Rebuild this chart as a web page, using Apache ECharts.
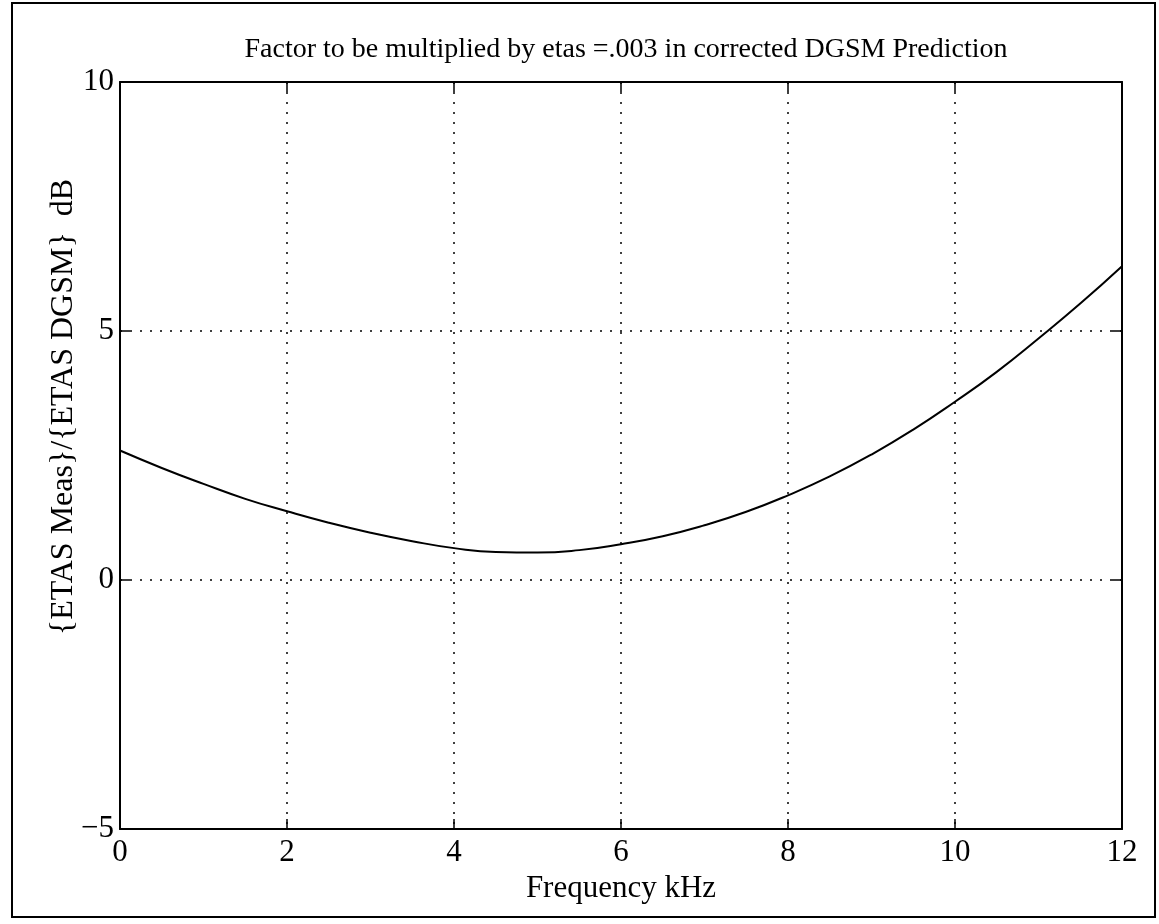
<!DOCTYPE html>
<html>
<head>
<meta charset="utf-8">
<script src="https://cdn.jsdelivr.net/npm/echarts@6/dist/echarts.min.js"></script>
<style>html,body{margin:0;padding:0;background:#fff;}#c{width:1159px;height:924px;}</style>
</head>
<body>
<div id="c"></div>
<script>
const titleText = 'Factor to be multiplied by etas =.003 in corrected DGSM Prediction';
const xName = 'Frequency kHz';
const yName = '{ETAS Meas}/{ETAS DGSM}  dB';
const freqKHz = [0,0.5,1,1.5,2,2.5,3,3.5,4,4.5,5,5.5,6,6.5,7,7.5,8,8.5,9,9.5,10,10.5,11,11.5,12];
const factorDB = [2.6,2.25,1.93,1.63,1.38,1.15,0.95,0.78,0.64,0.56,0.55,0.6,0.72,0.88,1.1,1.37,1.7,2.08,2.52,3.02,3.58,4.18,4.85,5.55,6.3];
const xTicks = [0,2,4,6,8,10,12];
const yTicks = [-5,0,5,10];

const FONT = 'Liberation Serif';
const chart = echarts.init(document.getElementById('c'), null, {renderer:'canvas'});
const points = freqKHz.map((x,i)=>[x,factorDB[i]]);
const axisLine = {show:true, onZero:false, lineStyle:{color:'#000', width:2}};
const tick = {show:true, inside:true, length:10, lineStyle:{color:'#000', width:1.5}};
const grid = {show:true, lineStyle:{color:'#000', width:1.5, type:[2,8]}};
chart.setOption({
  backgroundColor:'#fff',
  animation:false,
  title:{text:titleText, left:621, top:31, textAlign:'center',
    textStyle:{fontFamily:FONT, fontSize:28, fontWeight:'normal', color:'#000'}},
  grid:{left:120, right:37, top:82, bottom:95},
  xAxis:[
    {type:'value', position:'bottom', min:xTicks[0], max:xTicks[xTicks.length-1], interval:2,
     axisLine, axisTick:tick, splitLine:grid,
     axisLabel:{fontFamily:FONT, fontSize:31, color:'#000', margin:8},
     name:xName, nameLocation:'middle', nameGap:36,
     nameTextStyle:{fontFamily:FONT, fontSize:31, color:'#000'}},
    {type:'value', position:'top', min:xTicks[0], max:xTicks[xTicks.length-1], interval:2,
     axisLine, axisTick:tick, splitLine:{show:false}, axisLabel:{show:false}}
  ],
  yAxis:[
    {type:'value', position:'left', min:yTicks[0], max:yTicks[yTicks.length-1], interval:5,
     axisLine, axisTick:tick, splitLine:grid,
     axisLabel:{fontFamily:FONT, fontSize:31, color:'#000', margin:6,
       formatter:v=> v<0 ? '\u2212'+Math.abs(v) : String(v)}},
    {type:'value', position:'right', min:yTicks[0], max:yTicks[yTicks.length-1], interval:5,
     axisLine, axisTick:tick, splitLine:{show:false}, axisLabel:{show:false}}
  ],
  series:[{type:'line', data:points, smooth:true, showSymbol:false,
    lineStyle:{color:'#000', width:2}}],
  graphic:[
    {type:'rect', shape:{x:12, y:3, width:1143, height:914}, style:{fill:'none', stroke:'#000', lineWidth:2}, silent:true},
    {type:'text', x:64, y:407, rotation:Math.PI/2,
     style:{text:yName, fontFamily:FONT, fontSize:32, fill:'#000', textAlign:'center', textVerticalAlign:'middle'}}
  ]
});
</script>
</body>
</html>
